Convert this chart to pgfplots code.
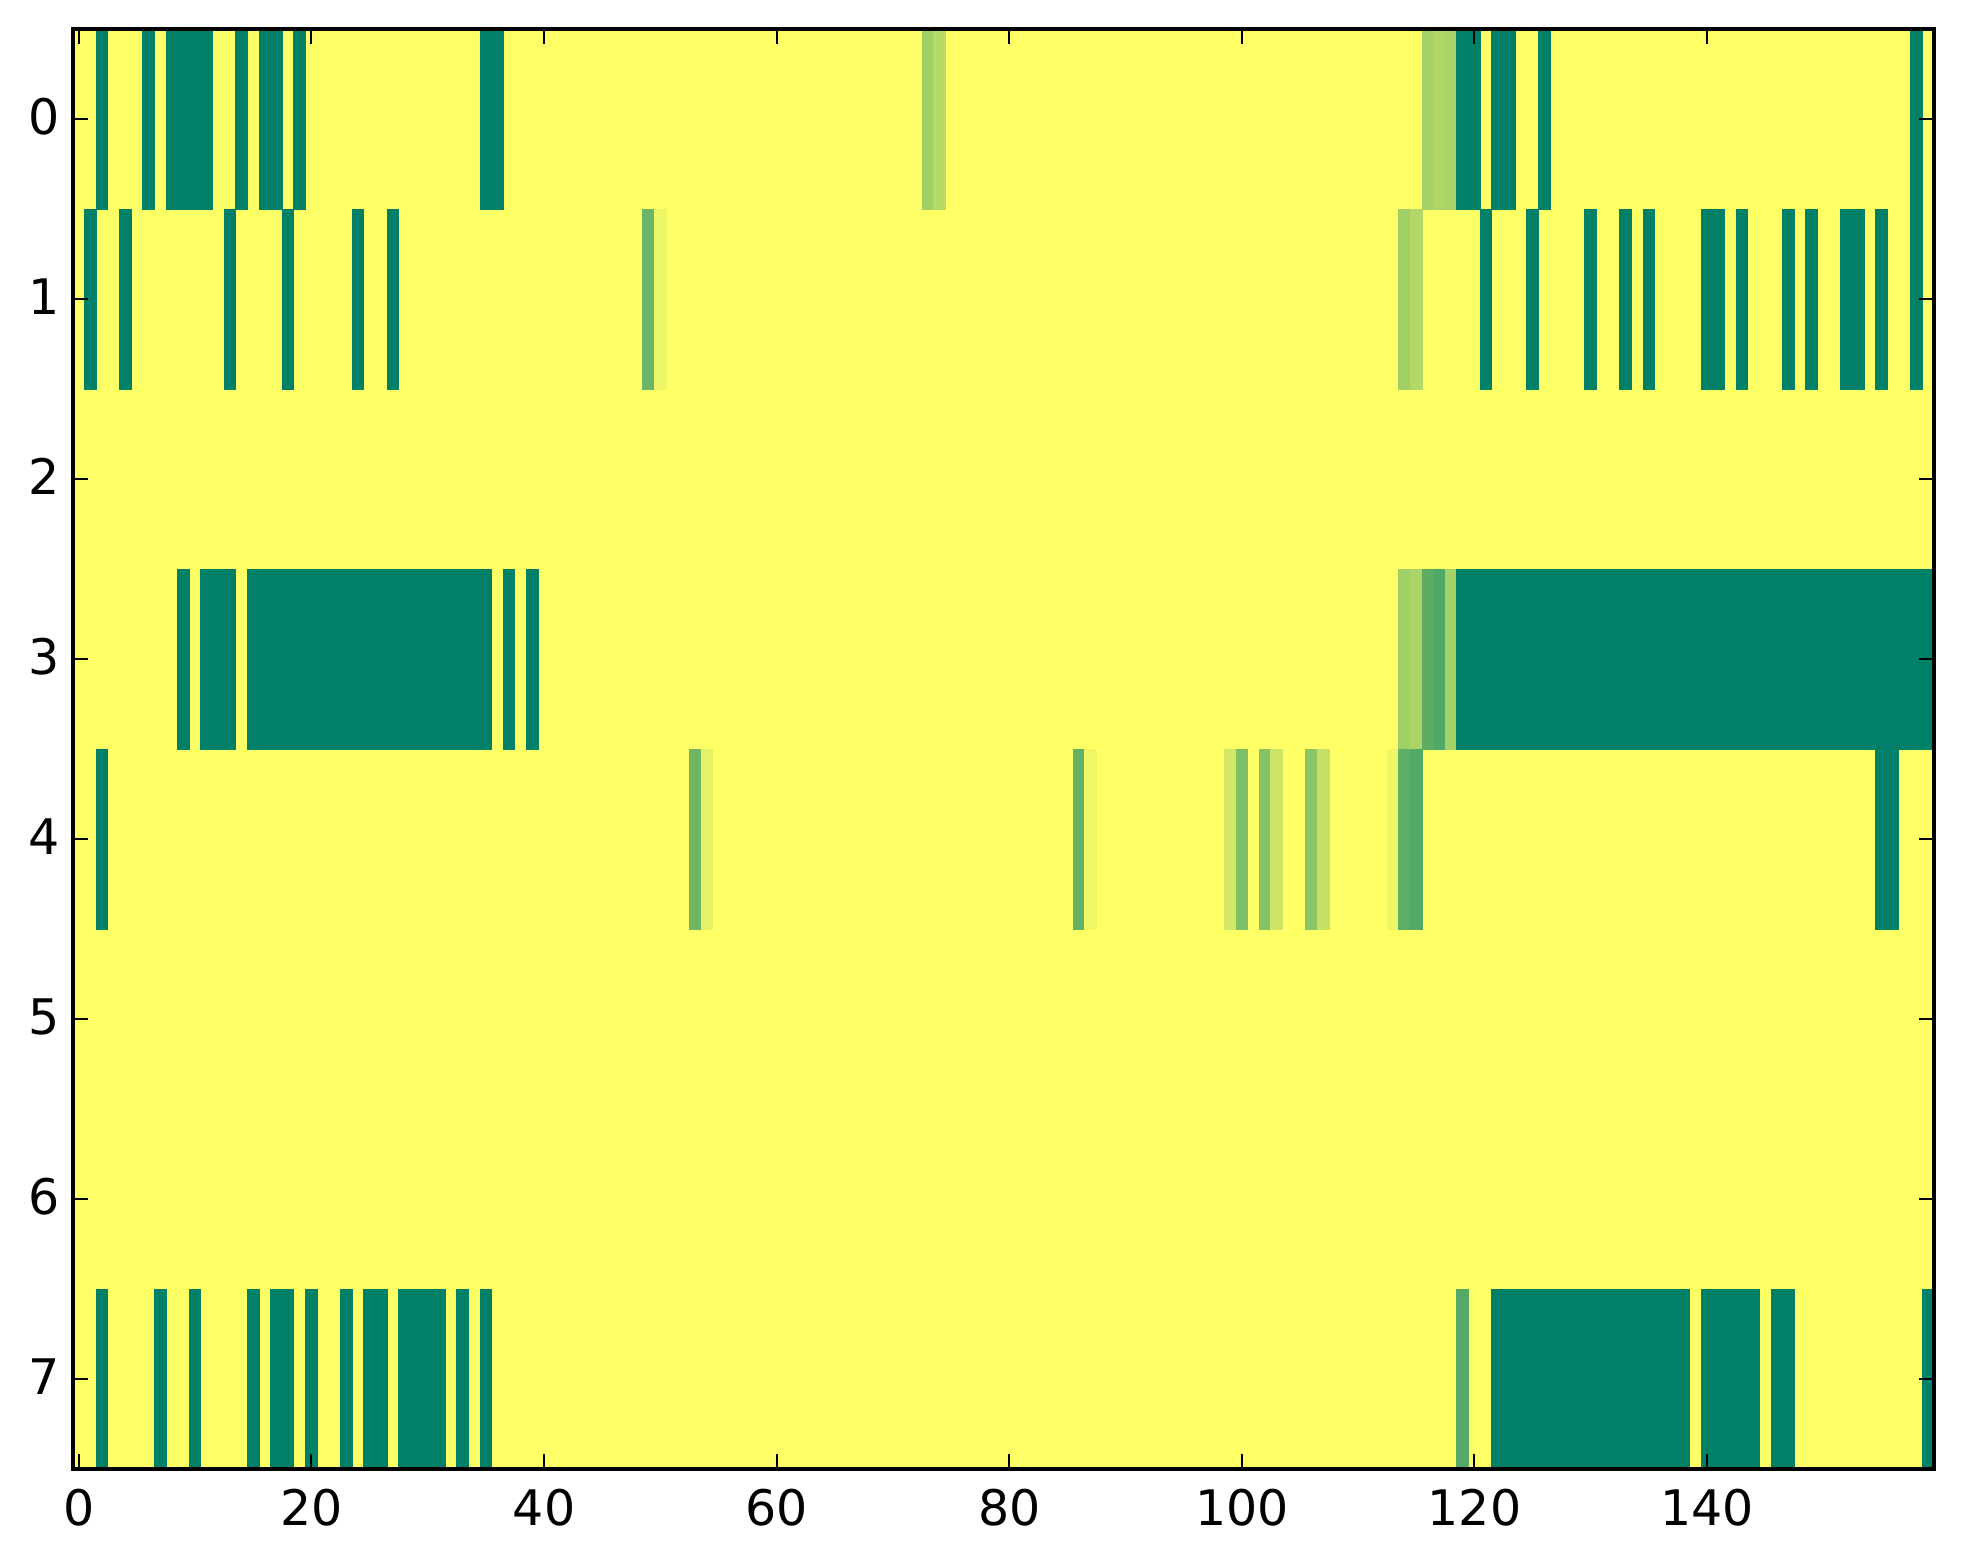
\documentclass[border=0pt]{standalone}
\usepackage{fontspec}
\setmainfont{DejaVu Sans}
\usepackage{pgfplots}
\pgfplotsset{compat=1.18}
\begin{document}
\begin{tikzpicture}
\useasboundingbox (-36.5pt,-47.5pt) rectangle (945pt,734.5pt);
\begin{axis}[
  at={(0pt,0pt)}, anchor=south west,
  scale only axis, width=930.4pt, height=720pt,
  xmin=-0.5, xmax=159.5, ymin=-0.5, ymax=7.5, y dir=reverse,
  xtick={0,20,40,60,80,100,120,140}, ytick={0,1,2,3,4,5,6,7},
  tick align=inside, major tick length=7.5pt,
  tick style={black, line width=1pt},
  axis line style={black, line width=2pt},
  axis on top,
  xtick pos=both, ytick pos=both, xticklabel pos=bottom, yticklabel pos=left,
  tick label style={font=\fontsize{24.5}{28}\selectfont, /pgf/number format/assume math mode=true},
  xticklabel style={inner sep=0pt, yshift=-10pt},
  yticklabel style={inner sep=0pt, xshift=-6.6pt, yshift=1.2pt},
  colormap={summerr}{rgb=(1,1,.4) rgb=(0,.5,.4)},
  point meta min=0, point meta max=1,
]
\addplot[patch, patch type=rectangle, shader=flat, line width=0pt, point meta=explicit] coordinates {
(-.5,-.5)[0] (159.5,-.5)[0] (159.5,7.5)[0] (-.5,7.5)[0]
% row 0
(1.5,-.5)[1] (2.5,-.5)[1] (2.5,.5)[1] (1.5,.5)[1]
(5.5,-.5)[1] (6.5,-.5)[1] (6.5,.5)[1] (5.5,.5)[1]
(7.5,-.5)[1] (11.5,-.5)[1] (11.5,.5)[1] (7.5,.5)[1]
(13.5,-.5)[1] (14.5,-.5)[1] (14.5,.5)[1] (13.5,.5)[1]
(15.5,-.5)[1] (17.5,-.5)[1] (17.5,.5)[1] (15.5,.5)[1]
(18.5,-.5)[1] (19.5,-.5)[1] (19.5,.5)[1] (18.5,.5)[1]
(34.5,-.5)[1] (36.5,-.5)[1] (36.5,.5)[1] (34.5,.5)[1]
(72.5,-.5)[.37] (73.5,-.5)[.37] (73.5,.5)[.37] (72.5,.5)[.37]
(73.5,-.5)[.29] (74.5,-.5)[.29] (74.5,.5)[.29] (73.5,.5)[.29]
(115.5,-.5)[.35] (116.5,-.5)[.35] (116.5,.5)[.35] (115.5,.5)[.35]
(116.5,-.5)[.31] (117.5,-.5)[.31] (117.5,.5)[.31] (116.5,.5)[.31]
(117.5,-.5)[.34] (118.5,-.5)[.34] (118.5,.5)[.34] (117.5,.5)[.34]
(118.5,-.5)[1] (120.5,-.5)[1] (120.5,.5)[1] (118.5,.5)[1]
(121.5,-.5)[1] (123.5,-.5)[1] (123.5,.5)[1] (121.5,.5)[1]
(125.5,-.5)[1] (126.5,-.5)[1] (126.5,.5)[1] (125.5,.5)[1]
(157.5,-.5)[1] (158.5,-.5)[1] (158.5,.5)[1] (157.5,.5)[1]
% row 1
(.5,.5)[1] (1.5,.5)[1] (1.5,1.5)[1] (.5,1.5)[1]
(3.5,.5)[1] (4.5,.5)[1] (4.5,1.5)[1] (3.5,1.5)[1]
(12.5,.5)[1] (13.5,.5)[1] (13.5,1.5)[1] (12.5,1.5)[1]
(17.5,.5)[1] (18.5,.5)[1] (18.5,1.5)[1] (17.5,1.5)[1]
(23.5,.5)[1] (24.5,.5)[1] (24.5,1.5)[1] (23.5,1.5)[1]
(26.5,.5)[1] (27.5,.5)[1] (27.5,1.5)[1] (26.5,1.5)[1]
(48.5,.5)[.58] (49.5,.5)[.58] (49.5,1.5)[.58] (48.5,1.5)[.58]
(49.5,.5)[.07] (50.5,.5)[.07] (50.5,1.5)[.07] (49.5,1.5)[.07]
(113.5,.5)[.37] (114.5,.5)[.37] (114.5,1.5)[.37] (113.5,1.5)[.37]
(114.5,.5)[.30] (115.5,.5)[.30] (115.5,1.5)[.30] (114.5,1.5)[.30]
(120.5,.5)[1] (121.5,.5)[1] (121.5,1.5)[1] (120.5,1.5)[1]
(124.5,.5)[1] (125.5,.5)[1] (125.5,1.5)[1] (124.5,1.5)[1]
(129.5,.5)[1] (130.5,.5)[1] (130.5,1.5)[1] (129.5,1.5)[1]
(132.5,.5)[1] (133.5,.5)[1] (133.5,1.5)[1] (132.5,1.5)[1]
(134.5,.5)[1] (135.5,.5)[1] (135.5,1.5)[1] (134.5,1.5)[1]
(139.5,.5)[1] (141.5,.5)[1] (141.5,1.5)[1] (139.5,1.5)[1]
(142.5,.5)[1] (143.5,.5)[1] (143.5,1.5)[1] (142.5,1.5)[1]
(146.5,.5)[1] (147.5,.5)[1] (147.5,1.5)[1] (146.5,1.5)[1]
(148.5,.5)[1] (149.5,.5)[1] (149.5,1.5)[1] (148.5,1.5)[1]
(151.5,.5)[1] (153.5,.5)[1] (153.5,1.5)[1] (151.5,1.5)[1]
(154.5,.5)[1] (155.5,.5)[1] (155.5,1.5)[1] (154.5,1.5)[1]
(157.5,.5)[1] (158.5,.5)[1] (158.5,1.5)[1] (157.5,1.5)[1]
% row 3
(8.5,2.5)[1] (9.5,2.5)[1] (9.5,3.5)[1] (8.5,3.5)[1]
(10.5,2.5)[1] (13.5,2.5)[1] (13.5,3.5)[1] (10.5,3.5)[1]
(14.5,2.5)[1] (35.5,2.5)[1] (35.5,3.5)[1] (14.5,3.5)[1]
(36.5,2.5)[1] (37.5,2.5)[1] (37.5,3.5)[1] (36.5,3.5)[1]
(38.5,2.5)[1] (39.5,2.5)[1] (39.5,3.5)[1] (38.5,3.5)[1]
(113.5,2.5)[.37] (114.5,2.5)[.37] (114.5,3.5)[.37] (113.5,3.5)[.37]
(114.5,2.5)[.33] (115.5,2.5)[.33] (115.5,3.5)[.33] (114.5,3.5)[.33]
(115.5,2.5)[.64] (116.5,2.5)[.64] (116.5,3.5)[.64] (115.5,3.5)[.64]
(116.5,2.5)[.68] (117.5,2.5)[.68] (117.5,3.5)[.68] (116.5,3.5)[.68]
(117.5,2.5)[.35] (118.5,2.5)[.35] (118.5,3.5)[.35] (117.5,3.5)[.35]
(118.5,2.5)[1] (159.5,2.5)[1] (159.5,3.5)[1] (118.5,3.5)[1]
% row 4
(1.5,3.5)[1] (2.5,3.5)[1] (2.5,4.5)[1] (1.5,4.5)[1]
(52.5,3.5)[.56] (53.5,3.5)[.56] (53.5,4.5)[.56] (52.5,4.5)[.56]
(53.5,3.5)[.105] (54.5,3.5)[.105] (54.5,4.5)[.105] (53.5,4.5)[.105]
(85.5,3.5)[.61] (86.5,3.5)[.61] (86.5,4.5)[.61] (85.5,4.5)[.61]
(86.5,3.5)[.06] (87.5,3.5)[.06] (87.5,4.5)[.06] (86.5,4.5)[.06]
(98.5,3.5)[.17] (99.5,3.5)[.17] (99.5,4.5)[.17] (98.5,4.5)[.17]
(99.5,3.5)[.50] (100.5,3.5)[.50] (100.5,4.5)[.50] (99.5,4.5)[.50]
(101.5,3.5)[.47] (102.5,3.5)[.47] (102.5,4.5)[.47] (101.5,4.5)[.47]
(102.5,3.5)[.20] (103.5,3.5)[.20] (103.5,4.5)[.20] (102.5,4.5)[.20]
(105.5,3.5)[.45] (106.5,3.5)[.45] (106.5,4.5)[.45] (105.5,4.5)[.45]
(106.5,3.5)[.23] (107.5,3.5)[.23] (107.5,4.5)[.23] (106.5,4.5)[.23]
(112.5,3.5)[.06] (113.5,3.5)[.06] (113.5,4.5)[.06] (112.5,4.5)[.06]
(113.5,3.5)[.63] (114.5,3.5)[.63] (114.5,4.5)[.63] (113.5,4.5)[.63]
(114.5,3.5)[.67] (115.5,3.5)[.67] (115.5,4.5)[.67] (114.5,4.5)[.67]
(154.5,3.5)[1] (156.5,3.5)[1] (156.5,4.5)[1] (154.5,4.5)[1]
% row 7
(1.5,6.5)[1] (2.5,6.5)[1] (2.5,7.5)[1] (1.5,7.5)[1]
(6.5,6.5)[1] (7.5,6.5)[1] (7.5,7.5)[1] (6.5,7.5)[1]
(9.5,6.5)[1] (10.5,6.5)[1] (10.5,7.5)[1] (9.5,7.5)[1]
(14.5,6.5)[1] (15.5,6.5)[1] (15.5,7.5)[1] (14.5,7.5)[1]
(16.5,6.5)[1] (18.5,6.5)[1] (18.5,7.5)[1] (16.5,7.5)[1]
(19.5,6.5)[1] (20.5,6.5)[1] (20.5,7.5)[1] (19.5,7.5)[1]
(22.5,6.5)[1] (23.5,6.5)[1] (23.5,7.5)[1] (22.5,7.5)[1]
(24.5,6.5)[1] (26.5,6.5)[1] (26.5,7.5)[1] (24.5,7.5)[1]
(27.5,6.5)[1] (31.5,6.5)[1] (31.5,7.5)[1] (27.5,7.5)[1]
(32.5,6.5)[1] (33.5,6.5)[1] (33.5,7.5)[1] (32.5,7.5)[1]
(34.5,6.5)[1] (35.5,6.5)[1] (35.5,7.5)[1] (34.5,7.5)[1]
(118.5,6.5)[.67] (119.5,6.5)[.67] (119.5,7.5)[.67] (118.5,7.5)[.67]
(121.5,6.5)[1] (138.5,6.5)[1] (138.5,7.5)[1] (121.5,7.5)[1]
(139.5,6.5)[1] (144.5,6.5)[1] (144.5,7.5)[1] (139.5,7.5)[1]
(145.5,6.5)[1] (147.5,6.5)[1] (147.5,7.5)[1] (145.5,7.5)[1]
(158.5,6.5)[1] (159.5,6.5)[1] (159.5,7.5)[1] (158.5,7.5)[1]
};
\end{axis}
\end{tikzpicture}
\end{document}
